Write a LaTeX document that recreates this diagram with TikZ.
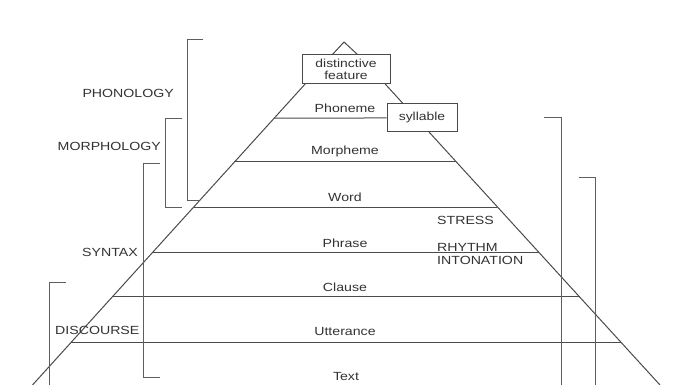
\documentclass[tikz,border=0pt]{standalone}
\usepackage{fontspec}
\setmainfont{Liberation Sans}[FakeStretch=1.2]
\usetikzlibrary{calc}
\definecolor{ln}{HTML}{4A4A4A}
\definecolor{br}{HTML}{5E5E5E}
\definecolor{tx}{HTML}{333333}
\begin{document}
\begin{tikzpicture}[x=1pt,y=-1pt,
  line/.style={draw=ln,line width=1pt},
  brk/.style={draw=br,line width=0.9pt},
  lab/.style={text=tx,font=\fontsize{11.8}{12.5}\selectfont,inner sep=0pt},
  boxn/.style={draw=ln,line width=1pt,fill=white,text=tx,font=\fontsize{11.6}{12.5}\selectfont,align=center,inner sep=0pt}]
\useasboundingbox (0,0) rectangle (681,385);
\fill[white] (0,0) rectangle (681,385);
% pyramid
\coordinate (apex) at (345,40);
\coordinate (bl) at (32.5,385);
\coordinate (br) at (660,385);
\coordinate (tl) at (332,55);
\coordinate (tt) at (344,42);
\coordinate (tr) at (358,55);
\draw[line] (tl) -- (tt) -- (tr);
\path[line] ($(apex)!0.1275!(bl)$) -- (bl);
\path[line] ($(apex)!0.1275!(br)$) -- (br);
% base (faint)
\draw[draw=ln!40,line width=0.8pt] (bl) -- (br);
% levels
\coordinate (pl) at ($(apex)!0.2261!(bl)$);
\node[boxn,minimum width=70pt,minimum height=28pt] (syl) at (422,118) {syllable};
\draw[line] (pl) -- (syl.west);
\foreach \t/\n in {0.3536/m,0.4841/w,0.6145/p,0.7449/c,0.8754/u}{
  \draw[line] ($(apex)!\t!(bl)$) -- ($(apex)!\t!(br)$);
}
\node[boxn,minimum width=88pt,minimum height=29pt] (df) at (346,69.5) {distinctive\\feature};
% level labels
\node[lab] (phon) at (345,108) {Phoneme};
\node[lab] (morph) at (345,151) {Morpheme};
\node[lab] (word) at (345,197) {Word};
\node[lab] (phr) at (345,243) {Phrase};
\node[lab] (cla) at (345,287) {Clause};
\node[lab] (utt) at (345,331) {Utterance};
\node[lab] (txt) at (346,376) {Text};
% side labels
\node[lab,anchor=east] (PH) at (174,93) {PHONOLOGY};
\node[lab,anchor=east] (MO) at (161,146) {MORPHOLOGY};
\node[lab,anchor=east] (SY) at (138,252) {SYNTAX};
\node[lab,anchor=west] (DI) at (55,330) {DISCOURSE};
\node[lab,anchor=west] (ST) at (437,220) {STRESS};
\node[lab,anchor=west] (RH) at (437,247) {RHYTHM};
\node[lab,anchor=west] (IN) at (437,260) {INTONATION};
% brackets
\draw[brk] (203,39) -| (187,200) -- (200,200);
\draw[brk] (182,118) -| (165,207) -- (182,207);
\draw[brk] (160,163) -| (143,377) -- (160,377);
\draw[brk] (66,282) -| (49,386);
\draw[brk] (544,117) -| (561,386);
\draw[brk] (579,177) -| (595,386);
\end{tikzpicture}
\end{document}
